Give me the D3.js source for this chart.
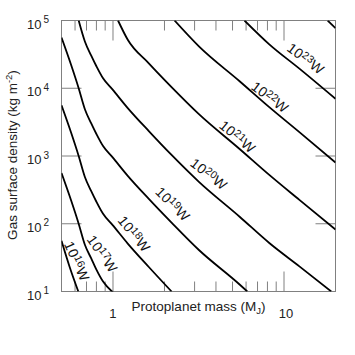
<!DOCTYPE html>
<html>
<head>
<meta charset="utf-8">
<script src="https://cdn.jsdelivr.net/npm/d3@7"></script>
<style>
  body { margin: 0; background: #fff; }
  svg { display: block; font-family: "Liberation Sans", Arial, Helvetica, sans-serif; }
</style>
</head>
<body>
<svg width="355" height="355"></svg>
<script>
// contour powers (log10 W)
const powers = [16, 17, 18, 19, 20, 21, 22, 23, 24];

// [protoplanet mass (M_J), gas surface density (kg m^-2)]
const curve16 = [[0.5, 56], [0.558, 23], [0.627, 10]];
const curve17 = [[0.5, 560], [0.57, 218], [0.63, 100], [0.685, 49], [0.745, 31], [0.8, 21], [0.875, 14], [1.0, 9.7]];
const curve18 = [[0.5, 5600], [0.57, 2180], [0.63, 1000], [0.685, 490], [0.745, 305], [0.8, 211], [0.875, 140], [0.99, 97], [1.22, 51], [1.62, 23], [2.2, 10]];
const curve19 = [[0.5, 56000], [0.57, 21800], [0.63, 10000], [0.685, 4900], [0.745, 3050], [0.8, 2110], [0.875, 1400], [0.99, 970], [1.22, 510], [1.62, 233], [2.2, 104], [3.18, 41], [5.5, 12.7], [6.1, 10]];
const curve20 = [[0.63, 100000], [0.685, 49000], [0.745, 30500], [0.8, 21100], [0.875, 14000], [0.99, 9700], [1.22, 5100], [1.62, 2330], [2.2, 1035], [3.18, 415], [5.5, 127], [8.2, 52], [12.3, 23.5], [18.9, 10]];
const curve21 = [[1.07, 100000], [1.22, 52000], [1.62, 23300], [2.2, 10400], [3.18, 4150], [5.5, 1270], [8.2, 526], [12.3, 225], [20, 82]];
const curve22 = [[2.29, 100000], [3.18, 41500], [5.5, 12700], [8.2, 5260], [12.3, 2250], [20, 800]];
const curve23 = [[5.87, 100000], [8.2, 44500], [12.3, 19500], [20, 7000]];
const curve24 = [[18, 100000], [20, 77000]];
const curves = [curve16, curve17, curve18, curve19, curve20, curve21, curve22, curve23, curve24];

// contour labels (centre of text in data units, rotation in degrees)
const labelPowers = [16, 17, 18, 19, 20, 21, 22, 23];
const labelMass = [0.616, 0.868, 1.33, 2.24, 3.64, 5.35, 8.28, 13.4];
const labelSigma = [28, 36, 71, 196, 542, 1940, 7430, 27500];
const labelAngles = [66, 55, 51, 45, 38, 40, 37, 37];

// ticks
const xMinorTicks = [0.6, 0.7, 0.8, 0.9, 2, 3, 4, 5, 6, 7, 8, 9];
const xMajorTicks = [1, 10];
const xTickLabels = ['1', '10'];
const yTicks = [10, 100, 1000, 10000, 100000];
const yTickExps = ['1', '2', '3', '4', '5'];

const pLeft = 61.5, pRight = 335.5, pTop = 20.5, pBottom = 291.5;
const frameColor = '#808080';

const x = d3.scaleLog().domain([0.5, 20]).range([pLeft, pRight]);
const y = d3.scaleLog().domain([10, 1e5]).range([pBottom, pTop]);

const svg = d3.select('svg');

svg.append('clipPath').attr('id', 'plot').append('rect')
  .attr('x', pLeft).attr('y', pTop)
  .attr('width', pRight - pLeft).attr('height', pBottom - pTop);

// inward ticks
function ticks(axis, vals, len, transform) {
  const g = svg.append('g')
    .attr('transform', transform)
    .attr('color', frameColor)
    .call(axis.tickValues(vals).tickSize(-len).tickSizeOuter(0).tickFormat('').offset(0));
  g.select('.domain').remove();
}
ticks(d3.axisBottom(x), xMinorTicks, 10, `translate(0,${pBottom})`);
ticks(d3.axisBottom(x), xMajorTicks, 20, `translate(0,${pBottom})`);
ticks(d3.axisTop(x), xMinorTicks, 10, `translate(0,${pTop})`);
ticks(d3.axisTop(x), xMajorTicks, 20, `translate(0,${pTop})`);
ticks(d3.axisLeft(y), yTicks, 20, `translate(${pLeft},0)`);
ticks(d3.axisRight(y), yTicks, 20, `translate(${pRight},0)`);

svg.append('rect')
  .attr('x', pLeft).attr('y', pTop)
  .attr('width', pRight - pLeft).attr('height', pBottom - pTop)
  .attr('fill', 'none').attr('stroke', frameColor).attr('stroke-width', 1);

// contours
const line = d3.line()
  .x(d => x(d[0]))
  .y(d => y(d[1]))
  .curve(d3.curveMonotoneX);

svg.append('g')
  .attr('clip-path', 'url(#plot)')
  .selectAll('path')
  .data(curves)
  .join('path')
  .attr('d', line)
  .attr('fill', 'none')
  .attr('stroke', '#000')
  .attr('stroke-width', 1.8);

// contour labels
labelPowers.forEach((p, i) => {
  const t = svg.append('text')
    .attr('transform', `translate(${x(labelMass[i])},${y(labelSigma[i])}) rotate(${labelAngles[i]})`)
    .attr('text-anchor', 'middle')
    .attr('dy', '0.36em')
    .attr('font-size', 14)
    .attr('letter-spacing', 0.3)
    .attr('fill', '#111');
  t.append('tspan').text('10');
  t.append('tspan').attr('font-size', 10.5).attr('dy', -4).text(p);
  t.append('tspan').attr('dy', 4).text('W');
});

// y tick labels
yTicks.forEach((v, i) => {
  const t = svg.append('text')
    .attr('x', 27).attr('y', y(v) + 8)
    .attr('font-size', 13).attr('fill', '#222');
  t.append('tspan').text('10');
  t.append('tspan').attr('dx', 2).attr('dy', -5.5).attr('font-size', 10).text(yTickExps[i]);
});

// x tick labels
svg.selectAll('.xlab')
  .data(xMajorTicks)
  .join('text')
  .attr('class', 'xlab')
  .attr('x', (d, i) => x(d) + i * 2)
  .attr('y', 318)
  .attr('text-anchor', 'middle')
  .attr('font-size', 13)
  .attr('fill', '#222')
  .text((d, i) => xTickLabels[i]);

// axis titles
const xt = svg.append('text')
  .attr('x', 198.5).attr('y', 311)
  .attr('text-anchor', 'middle')
  .attr('font-size', 13.5).attr('fill', '#222');
xt.append('tspan').text('Protoplanet mass (M');
xt.append('tspan').attr('font-size', 9.5).attr('dy', 3).text('J');
xt.append('tspan').attr('dy', -3).text(')');

const yt = svg.append('text')
  .attr('transform', 'translate(16.5,155) rotate(-90)')
  .attr('text-anchor', 'middle')
  .attr('font-size', 13.5).attr('fill', '#222');
yt.append('tspan').text('Gas surface density (kg m');
yt.append('tspan').attr('font-size', 9.5).attr('dy', -5).text('-2');
yt.append('tspan').attr('dy', 5).text(')');
</script>
</body>
</html>
